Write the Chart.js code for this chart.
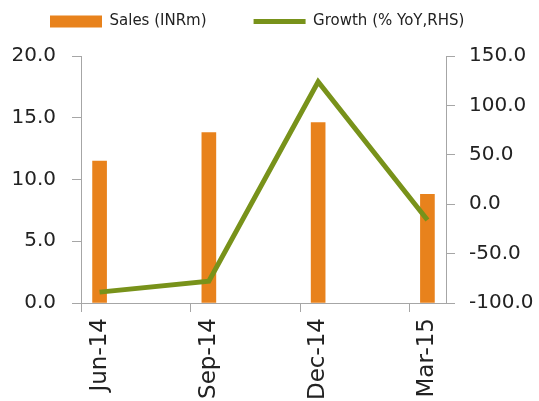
<!DOCTYPE html>
<html>
<head>
<meta charset="utf-8">
<script src="https://cdn.jsdelivr.net/npm/chart.js@4"></script>
<style>
  html, body { margin: 0; padding: 0; background: #ffffff; overflow: hidden; }
  #wrap { width: 539px; height: 401px; position: relative; }
</style>
</head>
<body>
<div id="wrap"><canvas id="c"></canvas></div>
<script>
// ---- data ----
const categories = ["Jun-14", "Sep-14", "Dec-14", "Mar-15"];
const salesValues = [11.5, 13.8, 14.6, 8.8];          // Sales (INRm), left axis
const growthValues = [-89, -78, 124, -16];            // Growth (% YoY, RHS)
const leftTicks = [0, 5, 10, 15, 20];
const rightTicks = [-100, -50, 0, 50, 100, 150];
const seriesNames = ["Sales (INRm)", "Growth (% YoY,RHS)"];

const ORANGE = "#E8821C";
const GREEN = "#78921A";
const AXIS = "#a6a6a6";
const TEXT = "#222222";
const FONT = "DejaVu Sans";

const toPoints = vals => vals.map((v, i) => ({ x: i, y: v }));

new Chart(document.getElementById("c"), {
  data: {
    datasets: [
      {
        type: "bar",
        label: seriesNames[0],
        data: toPoints(salesValues),
        backgroundColor: ORANGE,
        borderWidth: 0,
        barThickness: 14,
        yAxisID: "y",
        xAxisID: "x",
        pointStyle: "rect",
        order: 1
      },
      {
        type: "line",
        label: seriesNames[1],
        data: toPoints(growthValues),
        borderColor: GREEN,
        backgroundColor: GREEN,
        borderWidth: 5,
        borderJoinStyle: "miter",
        borderCapStyle: "butt",
        pointRadius: 0,
        tension: 0,
        yAxisID: "y2",
        xAxisID: "x",
        pointStyle: "line",
        order: 0
      }
    ]
  },
  options: {
    responsive: true,
    maintainAspectRatio: false,
    animation: false,
    layout: { padding: { top: -33, right: 0, bottom: 0, left: 3 } },
    plugins: {
      tooltip: { enabled: false },
      legend: {
        position: "top",
        align: "start",
        labels: {
          usePointStyle: true,
          pointStyleWidth: 52,
          boxHeight: 12,
          padding: 47,
          color: TEXT,
          font: { family: FONT, size: 15 },
          sort: (a, b) => a.datasetIndex - b.datasetIndex
        }
      }
    },
    scales: {
      gap: {
        type: "linear",
        position: "top",
        display: true,
        min: 0,
        max: 1,
        afterFit: s => { s.height = 17; },
        grid: { display: false, drawTicks: false },
        border: { display: false },
        ticks: { display: false }
      },
      x: {
        type: "linear",
        position: "bottom",
        offset: false,
        min: -0.17,
        max: categories.length - 1 + 0.17,
        afterBuildTicks: s => { s.ticks = categories.map((c, i) => ({ value: i - 0.165 })); },
        afterFit: s => { s.height = 98; },
        grid: { offset: false, drawOnChartArea: false, drawTicks: true, tickLength: 9, color: AXIS },
        border: { display: true, color: AXIS, width: 1 },
        ticks: {
          autoSkip: false,
          minRotation: 90,
          maxRotation: 90,
          padding: 6,
          labelOffset: 18,
          color: TEXT,
          font: { family: FONT, size: 23 },
          callback: (v, i) => categories[i]
        }
      },
      y: {
        type: "linear",
        position: "left",
        min: leftTicks[0],
        max: leftTicks[leftTicks.length - 1],
        afterBuildTicks: s => { s.ticks = leftTicks.map(v => ({ value: v })); },
        afterFit: s => { s.width = 78; },
        grid: { drawOnChartArea: false, drawTicks: true, tickLength: 9, color: AXIS },
        border: { display: true, color: AXIS, width: 1 },
        ticks: {
          padding: 16,
          color: TEXT,
          font: { family: FONT, size: 20 },
          callback: v => v.toFixed(1)
        }
      },
      y2: {
        type: "linear",
        position: "right",
        min: rightTicks[0],
        max: rightTicks[rightTicks.length - 1],
        afterBuildTicks: s => { s.ticks = rightTicks.map(v => ({ value: v })); },
        afterFit: s => { s.width = 93; },
        grid: { drawOnChartArea: false, drawTicks: true, tickLength: 9, color: AXIS },
        border: { display: true, color: AXIS, width: 1 },
        ticks: {
          padding: 14,
          crossAlign: "near",
          color: TEXT,
          font: { family: FONT, size: 20 },
          callback: v => v.toFixed(1)
        }
      }
    }
  }
});
</script>
</body>
</html>
